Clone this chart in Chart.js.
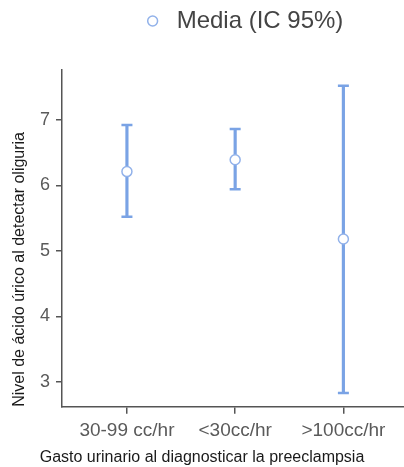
<!DOCTYPE html>
<html>
<head>
<meta charset="utf-8">
<script src="https://cdn.jsdelivr.net/npm/chart.js@4"></script>
<style>
  body { margin: 0; background: #fff; }
</style>
</head>
<body>
<canvas id="grafico" width="404" height="467"></canvas>
<script>
// datos
const categorias = ['30-99 cc/hr', '<30cc/hr', '>100cc/hr'];
const medias = [6.21, 6.39, 5.18];
const limInf = [5.52, 5.94, 2.83];
const limSup = [6.92, 6.86, 7.52];
const ticksY = [3, 4, 5, 6, 7];

const azul = '#7aa3e5';
const azulClaro = '#92b2ea';

// mueve un poco la leyenda a la derecha, como en la figura
const moverLeyenda = {
  id: 'moverLeyenda',
  afterLayout(chart) {
    chart.legend.left += 9;
    chart.legend.right += 9;
  }
};

new Chart(document.getElementById('grafico'), {
  type: 'scatter',
  data: {
    datasets: [{
      label: 'Media (IC 95%)',
      data: medias.map((m, i) => ({x: i, y: m})),
      pointRadius: 5,
      pointBorderWidth: 1.5,
      backgroundColor: '#ffffff',
      borderColor: azulClaro,
      borderWidth: 1.5
    }, {
      label: 'cap',
      data: categorias.flatMap((c, i) => [{x: i, y: limInf[i]}, {x: i, y: limSup[i]}]),
      pointStyle: 'line',
      pointRadius: 5.5,
      borderColor: azul,
      borderWidth: 2.5
    }, {
      type: 'bar',
      label: 'ic',
      data: categorias.map((c, i) => ({x: i, y: [limInf[i], limSup[i]]})),
      backgroundColor: azul,
      borderWidth: 0,
      barThickness: 2.5
    }]
  },
  options: {
    responsive: false,
    animation: false,
    layout: {padding: 0, autoPadding: false},
    scales: {
      x: {
        type: 'linear',
        offset: false,
        min: -0.6,
        max: 2.56,
        afterBuildTicks: s => { s.ticks = categorias.map((c, i) => ({value: i})); },
        afterFit: s => { s.height = 35; s.paddingLeft = 0; s.paddingRight = 0; },
        grid: {offset: false, drawOnChartArea: false, tickLength: 7, color: '#555', lineWidth: 1.5},
        border: {color: '#555', width: 1.5},
        ticks: {
          callback: v => categorias[v],
          font: {family: 'Liberation Sans', size: 19},
          color: '#5a5a5a',
          padding: 6,
          maxRotation: 0,
          autoSkip: false
        }
      },
      y: {
        min: 2.62,
        max: 7.76,
        afterBuildTicks: s => { s.ticks = ticksY.map(v => ({value: v})); },
        afterFit: s => { s.width = 62; },
        grid: {drawOnChartArea: false, tickLength: 6, color: '#555', lineWidth: 1.5},
        border: {color: '#555', width: 1.5},
        ticks: {
          font: {family: 'Liberation Sans', size: 18},
          color: '#5a5a5a',
          padding: 6
        },
        title: {
          display: true,
          text: 'Nivel de ácido úrico al detectar oliguria',
          align: 'start',
          font: {family: 'Liberation Sans', size: 16},
          color: '#1a1a1a',
          padding: {top: 10, bottom: 0}
        }
      }
    },
    plugins: {
      tooltip: {enabled: false},
      legend: {
        position: 'top',
        fullSize: false,
        labels: {
          filter: item => item.datasetIndex === 0,
          usePointStyle: true,
          boxWidth: 24,
          boxHeight: 7,
          padding: 9,
          color: '#444',
          font: {family: 'Liberation Sans', size: 24}
        }
      },
      subtitle: {
        display: true,
        text: '',
        position: 'top',
        weight: 500,
        font: {size: 27, lineHeight: 1},
        padding: 0
      },
      title: {
        display: true,
        text: 'Gasto urinario al diagnosticar la preeclampsia',
        position: 'bottom',
        color: '#1a1a1a',
        font: {family: 'Liberation Sans', size: 16, weight: 'normal'},
        padding: {top: 6, bottom: 0}
      }
    }
  },
  plugins: [moverLeyenda]
});
</script>
</body>
</html>
